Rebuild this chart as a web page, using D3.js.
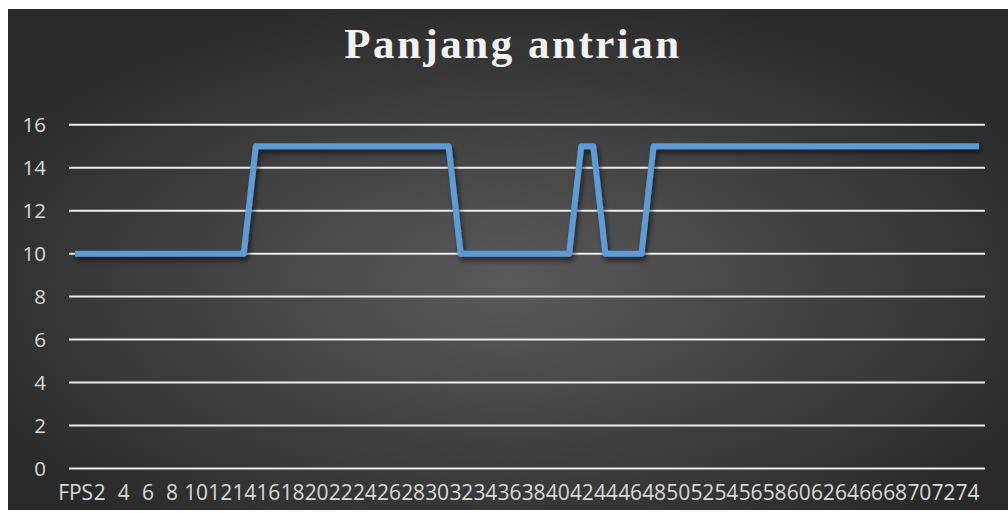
<!DOCTYPE html>
<html>
<head>
<meta charset="utf-8">
<script src="https://cdn.jsdelivr.net/npm/d3@7"></script>
<style>
  html, body { margin: 0; padding: 0; background: #ffffff; }
  svg { display: block; }
</style>
</head>
<body>
<svg id="chart" width="1008" height="513"></svg>
<script>
// Queue length per frame step
const chartTitle = "Panjang antrian";
const categories = ["FPS"].concat(d3.range(1, 76).map(String));
const queueLength = [
  10, 10, 10, 10, 10, 10, 10, 10, 10, 10, 10, 10, 10, 10, 10,
  15, 15, 15, 15, 15, 15, 15, 15, 15, 15, 15, 15, 15, 15, 15, 15, 15,
  10, 10, 10, 10, 10, 10, 10, 10, 10, 10,
  15, 15,
  10, 10, 10, 10,
  15, 15, 15, 15, 15, 15, 15, 15, 15, 15, 15, 15, 15, 15, 15, 15, 15, 15, 15, 15, 15, 15, 15, 15, 15, 15, 15, 15
];
const yTicks = [0, 2, 4, 6, 8, 10, 12, 14, 16];

const svg = d3.select("#chart");
const W = 1008, H = 513;

// chart area background with a soft radial light
const defs = svg.append("defs");
const grad = defs.append("radialGradient")
  .attr("id", "bg")
  .attr("cx", "50%").attr("cy", "55%").attr("r", "60%");
grad.append("stop").attr("offset", "0%").attr("stop-color", "#5a5a5a");
grad.append("stop").attr("offset", "100%").attr("stop-color", "#2a2a2a");

const shadow = defs.append("filter")
  .attr("id", "lineShadow")
  .attr("x", "-5%").attr("y", "-20%").attr("width", "110%").attr("height", "140%");
shadow.append("feDropShadow")
  .attr("dx", 2).attr("dy", 4).attr("stdDeviation", 2.5)
  .attr("flood-color", "#000").attr("flood-opacity", 0.55);

svg.append("rect")
  .attr("x", 8).attr("y", 9)
  .attr("width", W - 8).attr("height", H - 12)
  .attr("fill", "url(#bg)");

const plot = { left: 69, right: 985, top: 124.7, bottom: 468.5 };

const x = d3.scalePoint()
  .domain(categories)
  .range([plot.left, plot.right])
  .padding(0.5);

const y = d3.scaleLinear()
  .domain([0, 16])
  .range([plot.bottom, plot.top]);

// horizontal gridlines
svg.append("g")
  .selectAll("line")
  .data(yTicks)
  .join("line")
  .attr("x1", plot.left).attr("x2", plot.right)
  .attr("y1", d => y(d)).attr("y2", d => y(d))
  .attr("stroke", "#ececec")
  .attr("stroke-width", 2);

// y axis labels
const yAxis = svg.append("g")
  .attr("transform", `translate(${plot.left - 23},0)`)
  .call(d3.axisLeft(y).tickValues(yTicks).tickSize(0).tickPadding(0));
yAxis.select(".domain").remove();
yAxis.selectAll("text")
  .attr("fill", "#d9d9d9")
  .attr("font-family", "'Open Sans', sans-serif")
  .attr("font-size", 20.5);

// x axis labels, every other category
const xAxis = svg.append("g")
  .attr("transform", `translate(0,${plot.bottom + 17})`)
  .call(d3.axisBottom(x)
    .tickValues(categories.filter((d, i) => i % 2 === 0))
    .tickSize(0).tickPadding(0));
xAxis.select(".domain").remove();
xAxis.selectAll("text")
  .attr("fill", "#d9d9d9")
  .attr("font-family", "'Open Sans', sans-serif")
  .attr("font-size", 21)
  .attr("letter-spacing", "-0.2px");

// the series line
const line = d3.line()
  .x((d, i) => x(categories[i]))
  .y(d => y(d))
  .curve(d3.curveLinear);

svg.append("path")
  .datum(queueLength)
  .attr("d", line)
  .attr("fill", "none")
  .attr("stroke", "#5b9bd5")
  .attr("stroke-width", 6)
  .attr("stroke-linejoin", "round")
  .attr("stroke-linecap", "butt")
  .attr("filter", "url(#lineShadow)");

// title
svg.append("text")
  .attr("x", 513)
  .attr("y", 58)
  .attr("text-anchor", "middle")
  .attr("fill", "#f2f2f2")
  .attr("font-family", "'Liberation Serif', 'Times New Roman', serif")
  .attr("font-weight", "bold")
  .attr("font-size", 43)
  .attr("letter-spacing", "2.5px")
  .text(chartTitle);
</script>
</body>
</html>
